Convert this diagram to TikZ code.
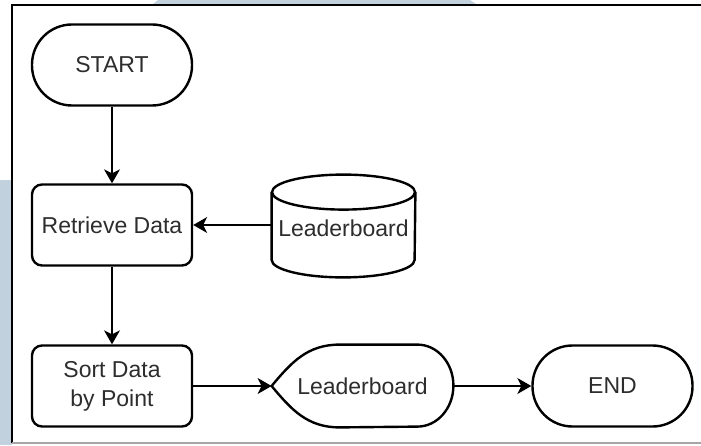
\documentclass[tikz,border=0pt]{standalone}
\usepackage{fontspec}
\setmainfont{Liberation Sans}
\usetikzlibrary{arrows.meta}
\definecolor{pagebg}{RGB}{194,209,222}
\definecolor{textgray}{RGB}{45,45,45}

\begin{document}
\begin{tikzpicture}[x=0.5pt, y=0.5pt,
    font=\fontsize{11.5}{14.5}\selectfont, text=textgray,
    term/.style={rectangle, rounded corners=20pt, draw, line width=1.2pt, minimum width=80pt, minimum height=40.5pt},
    proc/.style={rectangle, rounded corners=5pt, draw, line width=1.2pt, minimum width=80pt, minimum height=40.5pt, align=center},
    outline/.style={line width=1.2pt},
    flow/.style={-{Stealth[length=7pt, width=8pt, inset=2pt]}, line width=0.7pt}]
    % Background and frame
    \useasboundingbox (0,0) rectangle (701,445);
    \fill[white] (0,0) rectangle (701,445);
    \fill[pagebg] (140,430) -- (158,445) -- (470,445) -- (492,430) -- cycle;
    \fill[pagebg] (0,0) rectangle (12,265);
    \fill[white] (12,2) rectangle (701,440);
    \draw[line width=1.1pt] (12,2) -- (12,440) -- (701,440);
    \draw[black!35, line width=0.6pt] (12,2) -- (701,2);

    % Draw nodes
    \node[term] (start) at (112,380) {START};
    \node[proc] (retrieve) at (112,220) {Retrieve Data};
    \node[minimum width=71.5pt, minimum height=51pt, inner sep=0pt] (store) at (343.5,219) {};
    \node[proc] (sort) at (112,59) {Sort Data\\by Point};
    \node[minimum width=90.5pt, minimum height=41pt] (board) at (362.5,59) {Leaderboard};
    \node[term] (end) at (612.5,59) {END};

    % Cylinder outline
    \draw[outline] ([yshift=-8.75pt]store.north west) -- ([yshift=8.75pt]store.south west)
        arc[start angle=180, end angle=360, x radius=35.75pt, y radius=8.75pt]
        -- ([yshift=-8.75pt]store.north east);
    \draw[outline] ([yshift=-8.75pt]store.north) ellipse [x radius=35.75pt, y radius=8.75pt];
    \node at ([yshift=-1pt]store.center) {Leaderboard};

    % Display outline
    \draw[outline] (board.west)
        .. controls +(10pt,12pt) and +(-16pt,0pt) .. ([xshift=34pt]board.north west)
        -- ([xshift=-18pt]board.north east)
        arc[start angle=90, end angle=-90, x radius=18pt, y radius=20.5pt]
        -- ([xshift=34pt]board.south west)
        .. controls +(-16pt,0pt) and +(10pt,-12pt) .. (board.west) -- cycle;

    % Draw connections
    \draw[flow] (start) -- (retrieve);
    \draw[flow] (store.west |- retrieve) -- (retrieve);
    \draw[flow] (retrieve) -- (sort);
    \draw[flow] (sort) -- (board.west);
    \draw[flow] (board) -- (end);
\end{tikzpicture}
\end{document}
